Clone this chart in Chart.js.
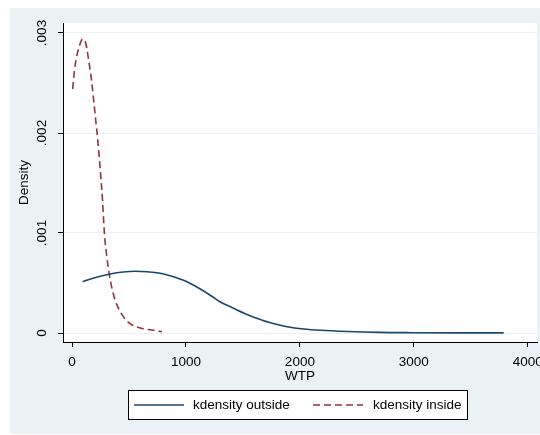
<!DOCTYPE html>
<html>
<head>
<meta charset="utf-8">
<script src="https://cdn.jsdelivr.net/npm/chart.js@4.4.0/dist/chart.umd.min.js"></script>
<style>
  html, body { margin: 0; padding: 0; background: #fff; }
  canvas { display: block; }
</style>
</head>
<body>
<canvas id="myChart" width="540" height="435"></canvas>
<script>
// values
const seriesLabels = ["kdensity outside", "kdensity inside"];

const outsideWtp = [94, 200, 334, 450, 554, 660, 774, 862, 1000, 1080, 1155, 1230, 1302, 1375, 1448, 1520, 1595, 1670, 1741, 1888, 2034, 2181, 2416, 2700, 3000, 3400, 3788];
const outsideDensity = [0.000513, 0.000553, 0.00059, 0.00061, 0.000617, 0.000613, 0.000598, 0.000572, 0.000517, 0.00047, 0.00042, 0.000365, 0.00031, 0.00027, 0.00023, 0.000193, 0.000157, 0.000128, 0.000103, 0.000063, 0.00004, 0.000027, 0.000015, 0.000006, 0.000003, 0.000001, 0.000001];

const insideWtp = [6, 20, 35, 50, 65, 80, 97, 115, 130, 143, 158, 173, 187, 208, 226, 246, 267, 285, 305, 325, 350, 378, 420, 466, 528, 600, 700, 789];
const insideDensity = [0.00244, 0.00261, 0.00273, 0.00281, 0.00287, 0.00292, 0.00294, 0.00292, 0.00285, 0.00275, 0.00264, 0.00251, 0.00236, 0.00213, 0.00193, 0.00166, 0.00134, 0.00099, 0.00077, 0.0006, 0.00045, 0.00033, 0.00022, 0.00014, 0.00008, 0.00005, 0.00003, 0.000013];

const xTicks = [0, 1000, 2000, 3000, 4000];
const yTicks = [0, 0.001, 0.002, 0.003];
const yTickLabels = ["0", ".001", ".002", ".003"];

const bgColor = "rgb(234, 242, 243)";
const font = { family: "'Liberation Sans', Arial, sans-serif", size: 13.5 };

function toPoints(xs, ys) {
  return xs.map((x, i) => ({ x: x, y: ys[i] }));
}

// grey panel + white plot region
const panelBg = {
  id: "panelBg",
  beforeDraw(chart) {
    const ctx = chart.ctx;
    const a = chart.chartArea;
    ctx.save();
    ctx.fillStyle = "#fff";
    ctx.fillRect(0, 0, chart.width, chart.height);
    ctx.fillStyle = bgColor;
    ctx.fillRect(10, 8, chart.width - 10, 426);
    ctx.fillStyle = "#fff";
    ctx.fillRect(a.left, a.top, a.right - a.left, a.bottom - a.top);
    ctx.restore();
  },
};

// boxed legend under the plot, Stata style
const legendBox = {
  id: "legendBox",
  afterDraw(chart) {
    const ctx = chart.ctx;
    const slots = [
      { x: 134, tx: 193 },
      { x: 313, tx: 373 },
    ];
    const y = 405;
    ctx.save();
    ctx.fillStyle = "#fff";
    ctx.fillRect(128.5, 390.5, 339, 29);
    ctx.strokeStyle = "#000";
    ctx.lineWidth = 1;
    ctx.strokeRect(128.5, 390.5, 339, 29);
    chart.data.datasets.forEach((ds, i) => {
      const s = slots[i];
      ctx.beginPath();
      ctx.setLineDash(ds.borderDash || []);
      ctx.strokeStyle = ds.borderColor;
      ctx.lineWidth = ds.borderWidth;
      ctx.moveTo(s.x, y);
      ctx.lineTo(s.x + 50, y);
      ctx.stroke();
      ctx.setLineDash([]);
      ctx.fillStyle = "#000";
      ctx.font = font.size + "px " + font.family;
      ctx.textBaseline = "middle";
      ctx.textAlign = "left";
      ctx.fillText(ds.label, s.tx, y);
    });
    ctx.restore();
  },
};

const data = {
  datasets: [
    {
      label: seriesLabels[0],
      data: toPoints(outsideWtp, outsideDensity),
      borderColor: "rgb(26, 71, 111)",
      borderWidth: 1.6,
      pointRadius: 0,
      cubicInterpolationMode: "monotone",
    },
    {
      label: seriesLabels[1],
      data: toPoints(insideWtp, insideDensity),
      borderColor: "rgb(144, 53, 59)",
      borderWidth: 1.6,
      borderDash: [7, 4],
      pointRadius: 0,
      cubicInterpolationMode: "monotone",
    },
  ],
};

const config = {
  type: "line",
  data: data,
  plugins: [panelBg, legendBox],
  options: {
    responsive: false,
    animation: false,
    events: [],
    layout: { padding: { left: 10, right: 3, top: 23, bottom: 50 } },
    plugins: {
      legend: { display: false },
      tooltip: { enabled: false },
    },
    scales: {
      x: {
        type: "linear",
        min: -79,
        max: 4081,
        afterBuildTicks: (s) => {
          s.ticks = xTicks.map((v) => ({ value: v }));
        },
        afterFit: (s) => {
          s.height = 43;
          s.paddingLeft = 0;
          s.paddingRight = 0;
        },
        ticks: {
          font: font,
          color: "#000",
          padding: 7,
          maxRotation: 0,
          autoSkip: false,
          callback: (v) => String(v),
        },
        grid: {
          drawOnChartArea: false,
          drawTicks: true,
          tickLength: 5,
          tickColor: "#000",
        },
        border: { display: true, color: "#000", width: 1 },
        title: {
          display: true,
          text: "WTP",
          font: font,
          color: "#000",
          padding: { top: 0, bottom: 1 },
        },
      },
      y: {
        type: "linear",
        min: -0.00009,
        max: 0.0031,
        afterBuildTicks: (s) => {
          s.ticks = yTicks.map((v) => ({ value: v }));
        },
        afterFit: (s) => {
          s.width = 53;
          s.paddingTop = 0;
          s.paddingBottom = 0;
        },
        ticks: {
          font: font,
          color: "#000",
          padding: 3,
          minRotation: 90,
          maxRotation: 90,
          crossAlign: "center",
          autoSkip: false,
          callback: (v, i) => yTickLabels[i],
        },
        grid: {
          color: bgColor,
          lineWidth: 1,
          drawTicks: true,
          tickLength: 5,
          tickColor: "#000",
        },
        border: { display: true, color: "#000", width: 1 },
        title: {
          display: true,
          text: "Density",
          font: font,
          color: "#000",
          padding: { top: 6, bottom: 0 },
        },
      },
    },
  },
};

const myChart = new Chart(document.querySelector("#myChart"), config);
</script>
</body>
</html>
